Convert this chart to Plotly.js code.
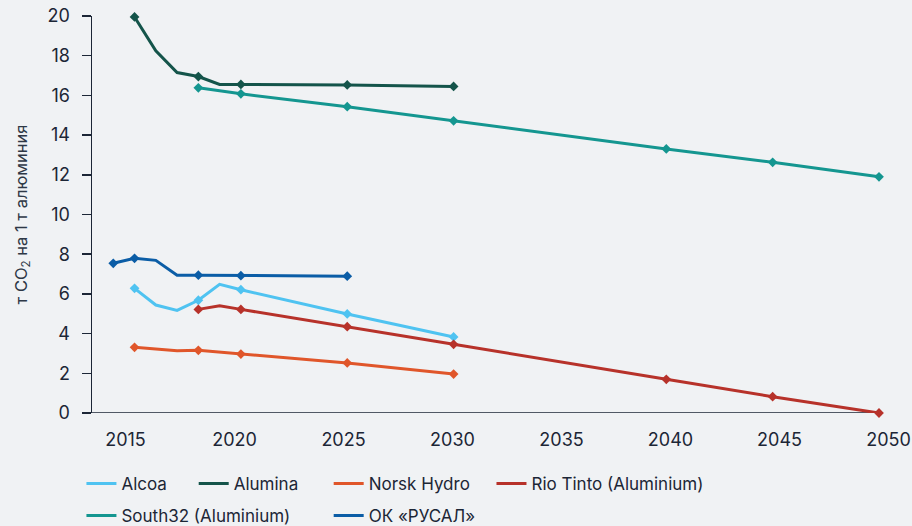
<!DOCTYPE html>
<html>
<head>
<meta charset="utf-8">
<script src="https://cdn.plot.ly/plotly-3.0.1.min.js"></script>
<style>
  html, body { margin: 0; padding: 0; background: #f0f2f4; }
  #chart { width: 912px; height: 526px; }
</style>
</head>
<body>
<div id="chart"></div>
<script>
// ---- Data ----
const reportedYears = [2014, 2015, 2018, 2020, 2025, 2030, 2040, 2045, 2050];
const xTickYears = [2015, 2020, 2025, 2030, 2035, 2040, 2045, 2050];
const yTickValues = [0, 2, 4, 6, 8, 10, 12, 14, 16, 18, 20];

const alcoaYears = [2015, 2016, 2017, 2018, 2019, 2020, 2025, 2030];
const alcoaValues = [6.28, 5.44, 5.17, 5.68, 6.48, 6.21, 4.99, 3.83];

const aluminaYears = [2015, 2016, 2017, 2018, 2019, 2020, 2025, 2030];
const aluminaValues = [19.95, 18.25, 17.15, 16.95, 16.55, 16.55, 16.53, 16.45];

const norskYears = [2015, 2017, 2018, 2020, 2025, 2030];
const norskValues = [3.31, 3.14, 3.16, 2.97, 2.52, 1.96];

const rioYears = [2018, 2019, 2020, 2025, 2030, 2040, 2045, 2050];
const rioValues = [5.22, 5.40, 5.22, 4.35, 3.46, 1.70, 0.82, 0.0];

const south32Years = [2018, 2020, 2025, 2030, 2040, 2045, 2050];
const south32Values = [16.38, 16.08, 15.43, 14.72, 13.30, 12.63, 11.90];

const rusalYears = [2014, 2015, 2016, 2017, 2018, 2020, 2025];
const rusalValues = [7.54, 7.79, 7.69, 6.94, 6.94, 6.92, 6.89];

const seriesNames = ["Alcoa", "Alumina", "Norsk Hydro", "Rio Tinto (Aluminium)", "South32 (Aluminium)", "ОК «РУСАЛ»"];
const seriesYears = [alcoaYears, aluminaYears, norskYears, rioYears, south32Years, rusalYears];
const seriesValues = [alcoaValues, aluminaValues, norskValues, rioValues, south32Values, rusalValues];

// ---- Styling ----
const colors = ["#4fc3f1", "#14544a", "#e0562a", "#b7322a", "#149690", "#0b5da6"];
const font = "Inter, 'Noto Sans', sans-serif";
const textColor = "#1c2636";
const axisColor = "#1c2636";

// axis geometry
const xStart = 2013, xEnd = 2050;
const plotLeft = 92, plotRightMargin = 18, figW = 912, figH = 526;
const plotWidth = figW - plotLeft - plotRightMargin;
const pxPerYear = 787 / (xEnd - xStart);
const mainRange = [xStart, xStart + plotWidth / pxPerYear];
// label axis (label placement of the original)
const labelPxPerYear = 21.8, label2015Px = 125.5;
const labelRange = [2015 - (label2015Px - plotLeft) / labelPxPerYear,
                    2015 + (plotLeft + plotWidth - label2015Px) / labelPxPerYear];

// legend placement (container coords): [x, y]
const legendPos = [[0.0893, 0.0798], [0.2124, 0.0798], [0.3604, 0.0798], [0.5389, 0.0798],
                   [0.0893, 0.019], [0.3604, 0.019]];

const traces = [];
const legends = {};
seriesNames.forEach((name, i) => {
  const legId = i === 0 ? "legend" : "legend" + (i + 1);
  const xs = seriesYears[i], ys = seriesValues[i];
  traces.push({
    type: "scatter", mode: "lines", name: name,
    x: xs, y: ys, legend: legId, legendgroup: name,
    cliponaxis: false,
    line: { color: colors[i], width: 3 },
    hoverinfo: "x+y+name"
  });
  const mx = [], my = [];
  xs.forEach((yr, k) => { if (reportedYears.includes(yr)) { mx.push(yr); my.push(ys[k]); } });
  traces.push({
    type: "scatter", mode: "markers", name: name,
    x: mx, y: my, legend: legId, legendgroup: name, showlegend: false,
    cliponaxis: false,
    marker: { symbol: "diamond", color: colors[i], size: 7.5, line: { width: 0 } },
    hoverinfo: "x+y+name"
  });
  legends[legId] = {
    orientation: "h",
    xref: "container", yref: "container",
    x: legendPos[i][0], xanchor: "left",
    y: legendPos[i][1], yanchor: "middle",
    bgcolor: "rgba(0,0,0,0)",
    font: { family: font, size: 17, color: textColor },
    itemwidth: 30
  };
});
// empty trace anchoring the label axis
traces.push({ type: "scatter", x: [], y: [], xaxis: "x2", yaxis: "y", showlegend: false, hoverinfo: "skip" });

const layout = Object.assign({
  width: figW,
  height: figH,
  paper_bgcolor: "#f0f2f4",
  plot_bgcolor: "#f0f2f4",
  margin: { l: plotLeft, r: plotRightMargin, t: 16, b: 113, autoexpand: false },
  font: { family: font, color: textColor, size: 16 },
  showlegend: true,
  xaxis: {
    range: mainRange,
    showgrid: false,
    zeroline: false,
    showline: false,
    ticks: "",
    showticklabels: false
  },
  xaxis2: {
    overlaying: "x",
    side: "bottom",
    anchor: "y",
    range: labelRange,
    tickvals: xTickYears,
    ticktext: xTickYears.map(String),
    showgrid: false,
    zeroline: false,
    showline: false,
    ticks: "",
    ticklabelstandoff: 14,
    tickfont: { family: font, size: 18, color: textColor }
  },
  yaxis: {
    range: [0, 20],
    tickvals: yTickValues,
    showgrid: false,
    zeroline: false,
    showline: true,
    linecolor: axisColor,
    linewidth: 1.5,
    ticks: "outside",
    ticklen: 9,
    tickwidth: 1.5,
    tickcolor: axisColor,
    ticklabelstandoff: 8,
    tickfont: { family: font, size: 18, color: textColor },
    title: {
      text: "т CO<sub>2</sub> на 1 т алюминия",
      font: { family: font, size: 16.5, color: "#2e3846" },
      standoff: 16
    }
  },
  shapes: [{
    type: "line", xref: "x", yref: "y", layer: "below",
    x0: xStart, x1: xEnd, y0: 0, y1: 0,
    line: { color: axisColor, width: 1.5 }
  }]
}, legends);

Plotly.newPlot("chart", traces, layout, { displayModeBar: false, staticPlot: true });
</script>
</body>
</html>
